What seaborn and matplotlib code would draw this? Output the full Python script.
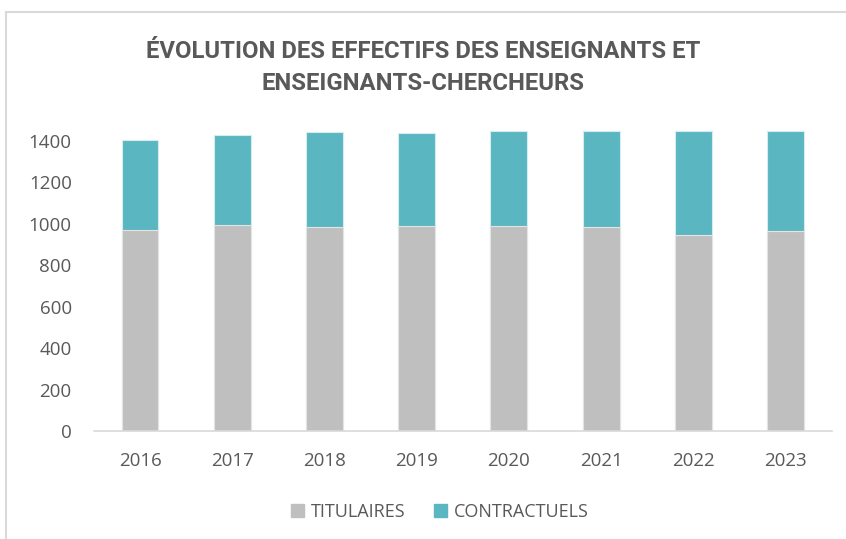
import seaborn as sns
import matplotlib.pyplot as plt
import pandas as pd
from matplotlib.lines import Line2D
from matplotlib.patches import Patch

# Data
years = ["2016", "2017", "2018", "2019", "2020", "2021", "2022", "2023"]
titulaires = [972, 995, 983, 990, 990, 983, 948, 967]
contractuels = [431, 432, 461, 447, 460, 467, 502, 483]

gray = "#BFBFBF"
teal = "#5AB6C0"
text_col = "#595959"

sns.set_theme(style="white")
plt.rcParams['font.family'] = ['Open Sans', 'DejaVu Sans']

df = pd.DataFrame({"annee": years, "titulaires": titulaires, "contractuels": contractuels})
df["total"] = df["titulaires"] + df["contractuels"]

fig = plt.figure(figsize=(8.46, 5.39), dpi=100)
ax = fig.add_axes([0.111, 0.2004, 0.872, 0.615])

# stacked bars: total first (teal), titulaires on top (gray)
sns.barplot(data=df, x="annee", y="total", color=teal, saturation=1,
            width=0.4, edgecolor="#D6ECEF", linewidth=0.8, ax=ax)
sns.barplot(data=df, x="annee", y="titulaires", color=gray, saturation=1,
            width=0.4, edgecolor="#E4E4E4", linewidth=0.8, ax=ax)

ax.set_ylim(0, 1600)
ax.set_yticks(range(0, 1401, 200))
ax.set_xlim(-0.5, len(years) - 0.5)
ax.set_xlabel("")
ax.set_ylabel("")
for s in ["top", "right", "left"]:
    ax.spines[s].set_visible(False)
ax.spines["bottom"].set_color("#D9D9D9")
ax.spines["bottom"].set_linewidth(1.2)
ax.tick_params(axis="both", length=0, colors=text_col, labelsize=13.5)
ax.tick_params(axis="y", pad=16)
ax.tick_params(axis="x", pad=15)

fig.text(0.5, 0.875, "ÉVOLUTION DES EFFECTIFS DES ENSEIGNANTS ET\nENSEIGNANTS-CHERCHEURS",
         ha="center", va="center", fontsize=17.2, fontweight="bold", color=text_col,
         linespacing=1.5, family=['Roboto', 'DejaVu Sans'])

handles = [Patch(color=gray, label="TITULAIRES"), Patch(color=teal, label="CONTRACTUELS")]
leg = fig.legend(handles=handles, loc="center", bbox_to_anchor=(0.52, 0.050), ncol=2,
                 frameon=False, fontsize=13, handlelength=0.7, handleheight=0.7,
                 handletextpad=0.4, columnspacing=1.6, labelcolor=text_col)

# chart frame (top and left edges visible)
fig.add_artist(Line2D([0.007, 0.007], [0, 0.978], color="#D9D9D9", lw=1.5, transform=fig.transFigure))
fig.add_artist(Line2D([0.007, 1.0], [0.978, 0.978], color="#D9D9D9", lw=1.5, transform=fig.transFigure))

fig.savefig("out.png", dpi=100)
